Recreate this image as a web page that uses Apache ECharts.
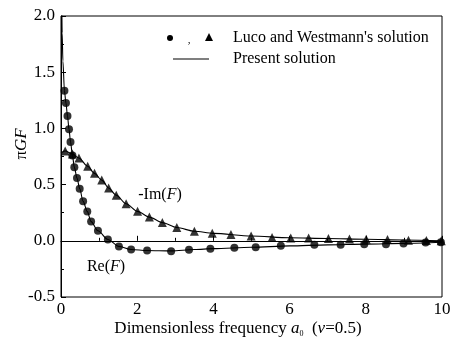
<!DOCTYPE html>
<html>
<head>
<meta charset="utf-8">
<script src="https://cdn.jsdelivr.net/npm/echarts@6/dist/echarts.min.js"></script>
<style>html,body{margin:0;padding:0;background:#fff}#c{width:454px;height:344px}</style>
</head>
<body>
<div id="c"></div>
<script>
// Luco and Westmann's solution, Re(F) (circles)
var lucoReX = [0.09, 0.13, 0.17, 0.21, 0.25, 0.30, 0.35, 0.42, 0.49, 0.58, 0.69, 0.79, 0.97, 1.23, 1.52, 1.84, 2.26, 2.89, 3.36, 3.92, 4.55, 5.11, 5.77, 6.65, 7.34, 7.96, 8.53, 8.99, 9.57, 9.97];
var lucoReY = [1.335, 1.226, 1.111, 0.993, 0.88, 0.76, 0.654, 0.558, 0.464, 0.351, 0.26, 0.171, 0.089, 0.012, -0.05, -0.077, -0.086, -0.092, -0.08, -0.071, -0.062, -0.057, -0.044, -0.035, -0.035, -0.03, -0.03, -0.024, -0.015, -0.012];
// Luco and Westmann's solution, -Im(F) (triangles)
var lucoImX = [0.11, 0.30, 0.47, 0.70, 0.88, 1.07, 1.25, 1.45, 1.71, 2.01, 2.32, 2.66, 3.04, 3.50, 3.97, 4.46, 4.99, 5.54, 6.03, 6.50, 7.02, 7.57, 8.01, 8.57, 9.12, 9.59, 9.98];
var lucoImY = [0.80, 0.772, 0.736, 0.663, 0.60, 0.54, 0.47, 0.406, 0.329, 0.262, 0.211, 0.162, 0.118, 0.085, 0.067, 0.056, 0.043, 0.029, 0.025, 0.024, 0.021, 0.016, 0.014, 0.011, 0.006, 0.002, 0.0];
// Present solution, Re(F)
var presentReX = [0.02, 0.03, 0.05, 0.09, 0.13, 0.17, 0.21, 0.25, 0.30, 0.35, 0.42, 0.49, 0.58, 0.69, 0.79, 0.97, 1.23, 1.52, 1.84, 2.26, 2.89, 3.5, 4, 5, 6, 7, 8, 9, 10];
var presentReY = [2.15, 1.85, 1.6, 1.335, 1.226, 1.111, 0.993, 0.88, 0.76, 0.654, 0.558, 0.464, 0.351, 0.26, 0.171, 0.089, 0.012, -0.05, -0.077, -0.086, -0.09, -0.078, -0.07, -0.058, -0.045, -0.036, -0.03, -0.023, -0.013];
// Present solution, -Im(F)
var presentImX = [0, 0.11, 0.30, 0.47, 0.70, 0.88, 1.07, 1.25, 1.45, 1.71, 2.01, 2.32, 2.66, 3.04, 3.5, 4, 5, 6, 7, 8, 9, 10];
var presentImY = [0.78, 0.80, 0.772, 0.736, 0.663, 0.60, 0.54, 0.47, 0.406, 0.329, 0.262, 0.211, 0.162, 0.118, 0.085, 0.066, 0.043, 0.027, 0.02, 0.014, 0.007, 0.0];
// axis ticks
var xTicks = [0, 2, 4, 6, 8, 10];
var yTicks = [-0.5, 0.0, 0.5, 1.0, 1.5, 2.0];

function zip(a, b) { return a.map(function (v, i) { return [v, b[i]]; }); }

var FONT = '"Liberation Serif", "Times New Roman", serif';
var chart = echarts.init(document.getElementById('c'), null, { renderer: 'canvas' });

var option = {
  animation: false,
  backgroundColor: '#fff',
  grid: { left: 61, right: 12, top: 16, bottom: 47, show: true, borderColor: '#000', borderWidth: 1, backgroundColor: 'transparent' },
  xAxis: {
    type: 'value', min: xTicks[0], max: xTicks[xTicks.length - 1], interval: 2,
    axisLine: { show: true, lineStyle: { color: '#000', width: 1 } },
    axisTick: { show: true, inside: true, length: 5, lineStyle: { color: '#000' } },
    minorTick: { show: true, splitNumber: 2, length: 3, lineStyle: { color: '#000' } },
    splitLine: { show: false },
    axisLabel: { color: '#000', fontFamily: FONT, fontSize: 17, margin: 4, formatter: function (v) { return String(v); } }
  },
  yAxis: {
    type: 'value', min: yTicks[0], max: yTicks[yTicks.length - 1], interval: 0.5,
    axisLine: { show: true, lineStyle: { color: '#000', width: 1 } },
    axisTick: { show: true, inside: true, length: 5, lineStyle: { color: '#000' } },
    minorTick: { show: true, splitNumber: 2, length: 3, lineStyle: { color: '#000' } },
    splitLine: { show: false },
    axisLabel: { color: '#000', fontFamily: FONT, fontSize: 17, margin: 6, formatter: function (v) { return v.toFixed(1); } }
  },
  series: [
    { type: 'line', data: zip(presentReX, presentReY), showSymbol: false, smooth: 0.3, smoothMonotone: 'x', clip: true,
      lineStyle: { color: '#000', width: 1.1 }, z: 2 },
    { type: 'line', data: zip(presentImX, presentImY), showSymbol: false, smooth: 0.3, smoothMonotone: 'x', clip: true,
      lineStyle: { color: '#000', width: 1.1 }, z: 2 },
    { type: 'scatter', data: zip(lucoReX, lucoReY), symbol: 'circle', symbolSize: 8,
      itemStyle: { color: '#000' }, z: 3 },
    { type: 'scatter', data: zip(lucoImX, lucoImY), symbol: 'triangle', symbolSize: 9,
      itemStyle: { color: '#000' }, z: 3 }
  ],
  graphic: [
    { type: 'circle', shape: { cx: 170, cy: 38, r: 3 }, style: { fill: '#000' } },
    { type: 'text', x: 189, y: 40, style: { text: ',', fontFamily: FONT, fontSize: 11, fill: '#000', align: 'center', verticalAlign: 'middle' } },
    { type: 'polygon', shape: { points: [[209, 33], [213, 41], [205, 41]] }, style: { fill: '#000' } },
    { type: 'text', x: 233, y: 38, style: { text: "Luco and Westmann's solution", fontFamily: FONT, fontSize: 16, fill: '#000', align: 'left', verticalAlign: 'middle' } },
    { type: 'line', shape: { x1: 173, y1: 59, x2: 209, y2: 59 }, style: { stroke: '#000', lineWidth: 1.1 } },
    { type: 'text', x: 233, y: 59, style: { text: 'Present solution', fontFamily: FONT, fontSize: 16, fill: '#000', align: 'left', verticalAlign: 'middle' } },
    { type: 'text', x: 160, y: 195, style: { text: '-Im({i|F})', fontFamily: FONT, fontSize: 16, fill: '#000', align: 'center', verticalAlign: 'middle',
      rich: { i: { fontFamily: FONT, fontStyle: 'italic', fontSize: 16, fill: '#000' } } } },
    { type: 'text', x: 106, y: 267, style: { text: 'Re({i|F})', fontFamily: FONT, fontSize: 16, fill: '#000', align: 'center', verticalAlign: 'middle',
      rich: { i: { fontFamily: FONT, fontStyle: 'italic', fontSize: 16, fill: '#000' } } } },
    { type: 'text', x: 22, y: 144, rotation: Math.PI / 2, style: { text: 'π{i|GF}', fontFamily: FONT, fontSize: 17, fill: '#000', align: 'center', verticalAlign: 'middle',
      rich: { i: { fontFamily: FONT, fontStyle: 'italic', fontSize: 17, fill: '#000' } } } },
    { type: 'text', x: 238, y: 329, style: { text: 'Dimensionless frequency {i|a}{s|0}  ({i|ν}=0.5)', fontFamily: FONT, fontSize: 17, fill: '#000', align: 'center', verticalAlign: 'middle',
      rich: { i: { fontFamily: FONT, fontStyle: 'italic', fontSize: 17, fill: '#000' },
              s: { fontFamily: FONT, fontSize: 8, fill: '#000', verticalAlign: 'bottom', padding: [4, 0, 0, 0] } } } }
  ]
};
chart.setOption(option);
</script>
</body>
</html>
